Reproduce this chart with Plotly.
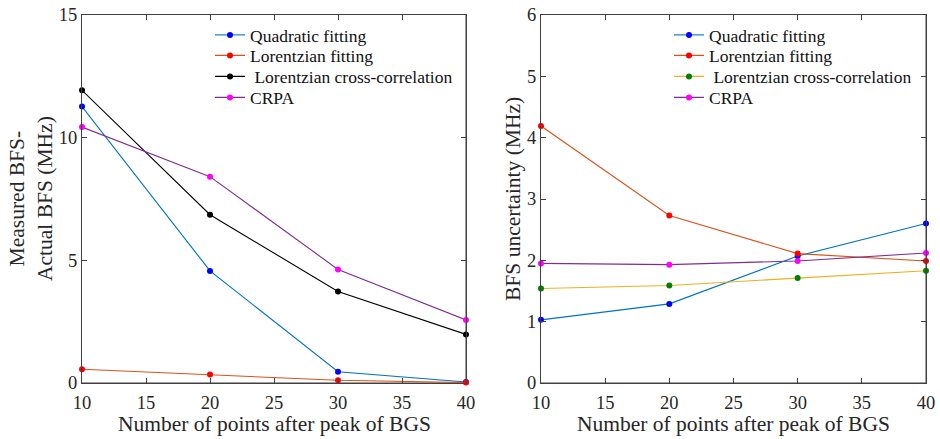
import plotly.graph_objects as go

# Number of points after the BGS peak
points = [10, 20, 30, 40]

# Left panel: measured BFS minus actual BFS (MHz)
err_quadratic = [11.27, 4.57, 0.46, 0.04]
err_lorentz_fit = [0.56, 0.35, 0.11, 0.02]
err_lorentz_xcorr = [11.93, 6.86, 3.73, 1.98]
err_crpa = [10.43, 8.41, 4.63, 2.57]

# Right panel: BFS uncertainty (MHz)
unc_quadratic = [1.03, 1.29, 2.07, 2.60]
unc_lorentz_fit = [4.19, 2.73, 2.11, 1.99]
unc_lorentz_xcorr = [1.54, 1.59, 1.71, 1.83]
unc_crpa = [1.95, 1.93, 1.99, 2.12]

names = ["Quadratic fitting", "Lorentzian fitting", " Lorentzian cross-correlation", "CRPA"]
x_ticks = [10, 15, 20, 25, 30, 35, 40]

FONT = "Liberation Serif"
TXT = "#262626"

left_style = [("#0072BD", "#0000FF"), ("#D95319", "#FF0000"),
              ("#000000", "#000000"), ("#7E2F8E", "#FF00FF")]
right_style = [("#0072BD", "#0000FF"), ("#D95319", "#FF0000"),
               ("#EDB120", "#008000"), ("#7E2F8E", "#FF00FF")]

W, H = 940, 439
xd1 = [82 / W, 466 / W]
xd2 = [541 / W, 926 / W]
yd = [1 - 383 / H, 1 - 15 / H]

fig = go.Figure()

left_series = [err_quadratic, err_lorentz_fit, err_lorentz_xcorr, err_crpa]
right_series = [unc_quadratic, unc_lorentz_fit, unc_lorentz_xcorr, unc_crpa]

# One single-entry legend per trace so the rows sit tightly, MATLAB-style
legend_rows = [35, 55.5, 76.5, 97.5]
legend_layout = {}
legend_font = dict(family=FONT, size=17.5, color="#111")


def legend_key(n):
    return "legend" if n == 1 else f"legend{n}"


n = 0
for panel, (series, styles, xa, ya, x_left) in enumerate((
        (left_series, left_style, "x", "y", 82),
        (right_series, right_style, "x2", "y2", 541))):
    for name, ys, (lc, mc), row in zip(names, series, styles, legend_rows):
        n += 1
        key = legend_key(n)
        fig.add_trace(go.Scatter(
            x=points, y=ys, name=name, mode="lines+markers",
            line=dict(color=lc, width=1.1), marker=dict(color=mc, size=6),
            cliponaxis=False, xaxis=xa, yaxis=ya, legend=key))
        legend_layout[key] = dict(
            x=(x_left + 128) / W, y=1 - row / H, xanchor="left", yanchor="middle",
            bgcolor="rgba(0,0,0,0)", font=legend_font, itemwidth=30,
        )

axis_common = dict(
    showline=True, linecolor="#404040", linewidth=1, mirror="ticks",
    ticks="inside", ticklen=5, tickcolor="#404040", showgrid=False,
    zeroline=False, automargin=False,
    tickfont=dict(family=FONT, size=18.5, color=TXT),
)

fig.update_layout(
    width=W, height=H, margin=dict(l=0, r=0, t=0, b=0, autoexpand=False),
    paper_bgcolor="white", plot_bgcolor="white",
    font=dict(family=FONT, color=TXT),
    xaxis=dict(domain=xd1, range=[10, 40], tickvals=x_ticks, anchor="y",
               ticklabelstandoff=3, **axis_common),
    yaxis=dict(domain=yd, range=[0, 15], tickvals=[0, 5, 10, 15], anchor="x", **axis_common),
    xaxis2=dict(domain=xd2, range=[10, 40], tickvals=x_ticks, anchor="y2",
                ticklabelstandoff=3, **axis_common),
    yaxis2=dict(domain=yd, range=[0, 6], tickvals=[0, 1, 2, 3, 4, 5, 6], anchor="x2", **axis_common),
    showlegend=True,
    **legend_layout,
)

# Axis titles
title_font = dict(family=FONT, size=21.5, color=TXT)
ymid = (yd[0] + yd[1]) / 2
for xd in (xd1, xd2):
    fig.add_annotation(text="Number of points after peak of BGS", xref="paper", yref="paper",
                       x=(xd[0] + xd[1]) / 2, y=0, showarrow=False,
                       font=title_font, xanchor="center", yanchor="bottom", yshift=1)
fig.add_annotation(text="Measured BFS-<br>Actual BFS (MHz)", xref="paper", yref="paper",
                   x=31 / W, y=ymid, showarrow=False, textangle=-90,
                   font=title_font, xanchor="center", yanchor="middle")
fig.add_annotation(text="BFS uncertainty (MHz)", xref="paper", yref="paper",
                   x=513 / W, y=ymid, showarrow=False, textangle=-90,
                   font=title_font, xanchor="center", yanchor="middle")

# Lighter bottom and right frame edges
for xr, yr in (("x domain", "y domain"), ("x2 domain", "y2 domain")):
    fig.add_shape(type="line", xref=xr, yref=yr, x0=0, x1=1, y0=0, y1=0,
                  line=dict(color="#7f7f7f", width=1.5), layer="below")
    fig.add_shape(type="line", xref=xr, yref=yr, x0=1, x1=1, y0=0, y1=1,
                  line=dict(color="#7f7f7f", width=1.5), layer="below")

fig.write_html("out.html")
